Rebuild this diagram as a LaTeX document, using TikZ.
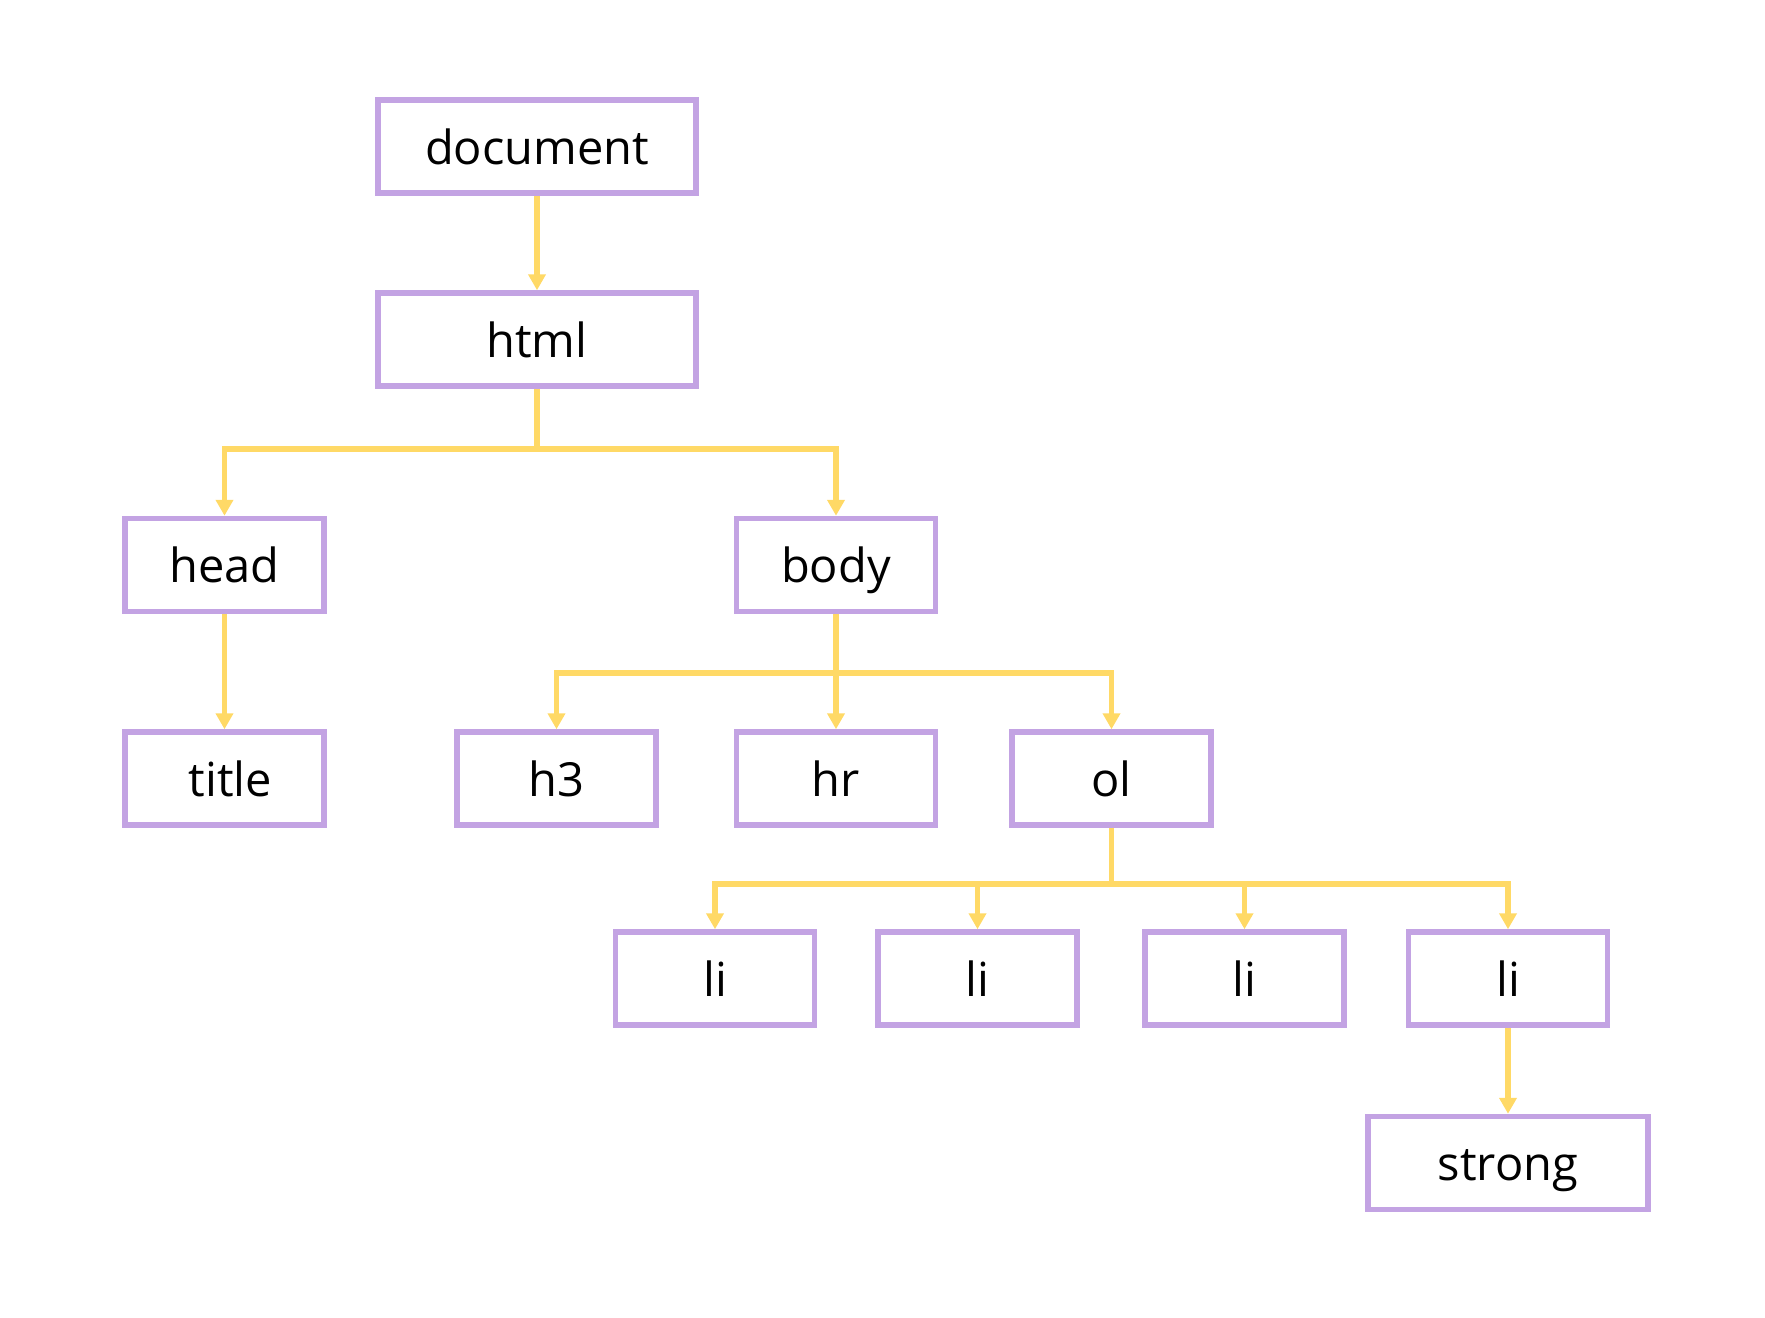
\documentclass[tikz,border=0pt]{standalone}
\usepackage{fontspec}
\setmainfont{Open Sans}
\usetikzlibrary{arrows.meta}
\definecolor{boxpurple}{RGB}{195,163,227}
\definecolor{connyellow}{RGB}{255,217,102}
\tikzset{
  tbox/.style={draw=boxpurple, line width=2.75pt, fill=white, inner sep=0pt,
    minimum width=99.5pt, minimum height=46.5pt, text height=20pt, text depth=2.5pt,
    font=\fontsize{23.5pt}{28pt}\selectfont},
  widebox/.style={tbox, minimum width=159pt},
  strongbox/.style={tbox, minimum width=140pt},
  conn/.style={draw=connyellow, line width=2.75pt},
  arr/.style={conn, -{Triangle[length=8pt,width=8.5pt]}}
}
\begin{document}
\begin{tikzpicture}[x=0.5pt,y=-0.5pt]
\useasboundingbox (0,0) rectangle (1765,1317);
% nodes
\node[widebox] (document) at (537,146.5) {document};
\node[widebox] (html) at (537,339.5) {html};
\node[tbox] (head) at (224.5,565) {head};
\node[tbox] (body) at (836,565) {body};
\node[tbox] (title) at (224.5,778.5) {\hspace*{6pt}title};
\node[tbox] (h3) at (556.5,778.5) {h3};
\node[tbox] (hr) at (836,778.5) {hr};
\node[tbox] (ol) at (1111.5,778.5) {ol};
\node[tbox] (li1) at (715,978.5) {li};
\node[tbox] (li2) at (977.5,978.5) {li};
\node[tbox] (li3) at (1244.5,978.5) {li};
\node[tbox] (li4) at (1508,978.5) {li};
\node[strongbox] (strong) at (1508,1163) {strong};
% branch points
\coordinate (hb) at (537,449);
\coordinate (bb) at (836,673);
\coordinate (ob) at (1111.5,884);
% connectors
\draw[arr] (document) -- (html);
\draw[conn] (html) -- (hb);
\draw[arr] (hb) -| (head.north);
\draw[arr] (hb) -| (body.north);
\draw[arr] (head) -- (title);
\draw[arr] (body) -- (hr);
\draw[arr] (bb) -| (h3.north);
\draw[arr] (bb) -| (ol.north);
\draw[conn] (ol) -- (ob);
\draw[arr] (ob) -| (li1.north);
\draw[arr] (ob) -| (li2.north);
\draw[arr] (ob) -| (li3.north);
\draw[arr] (ob) -| (li4.north);
\draw[arr] (li4) -- (strong);
\end{tikzpicture}
\end{document}
